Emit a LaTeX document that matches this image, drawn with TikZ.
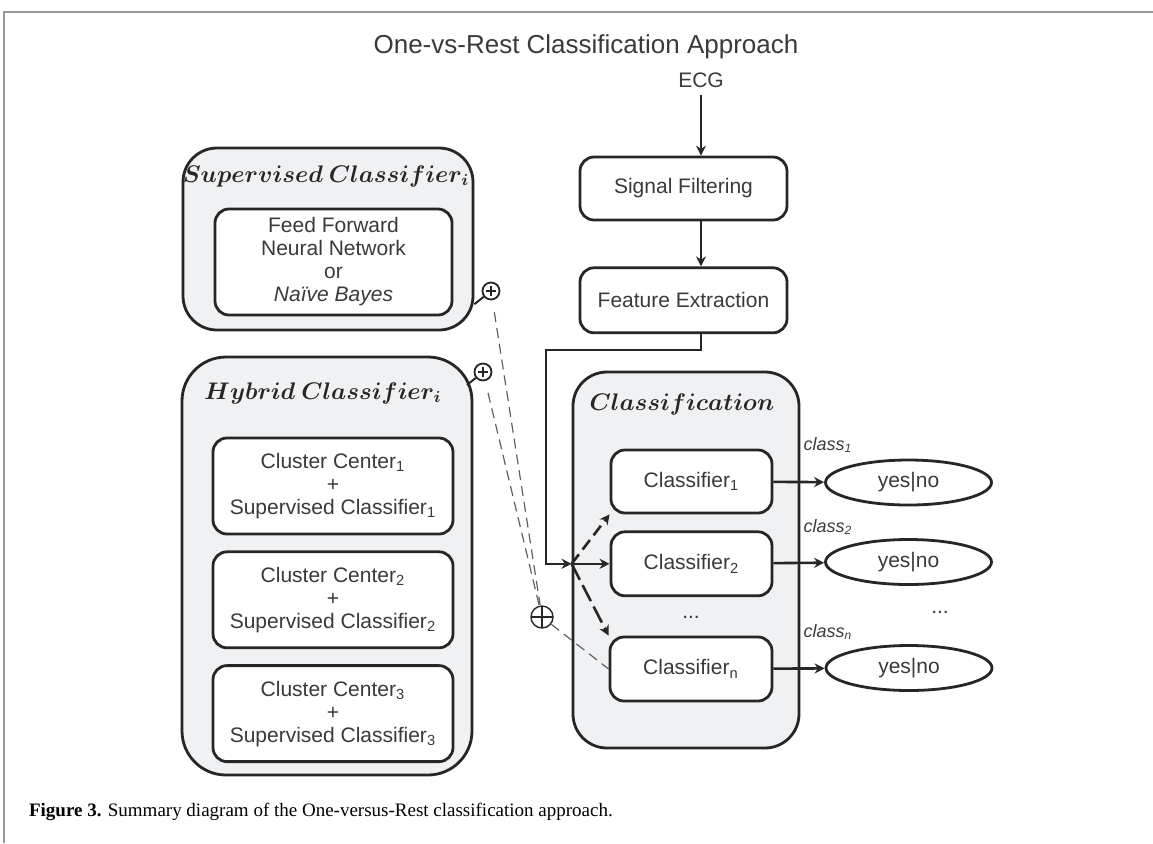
\documentclass[tikz,border=0pt]{standalone}
\usepackage{fontspec}
\setmainfont{Liberation Serif}
\setsansfont{Liberation Sans}
\usepackage{xcolor}
\usepackage{tikz}
\usetikzlibrary{arrows.meta,positioning,calc,shapes.geometric}

\definecolor{boxgray}{HTML}{F0F1F3}
\definecolor{ink}{HTML}{262626}
\definecolor{txt}{HTML}{3A3A3A}

\begin{document}
\begin{tikzpicture}[
      x=0.5pt, y=-0.5pt,
      font=\sffamily\fontsize{10.5}{11.5}\selectfont, text=txt,
      box/.style={draw=ink, line width=1.4pt, rounded corners=7pt, fill=white,
                  align=center, inner sep=0pt},
      group/.style={draw=ink, line width=1.4pt, fill=boxgray, inner sep=0pt},
      grouptitle/.style={font=\boldmath\fontsize{12}{14}\selectfont, text=ink},
      outcome/.style={draw=ink, line width=1.4pt, ellipse, fill=white,
                      minimum width=83pt, minimum height=22.5pt, inner sep=0pt},
      classlab/.style={font=\sffamily\itshape\fontsize{9}{10}\selectfont},
      arr/.style={-{Stealth[length=5pt,width=5pt]}, line width=1.3pt, draw=ink},
      joint/.style={circle, draw=ink, line width=0.9pt, fill=white, minimum size=8.5pt,
                    inner sep=0pt,
                    path picture={\draw[line width=1pt]
                      ($(path picture bounding box.center)+(-2.3pt,0)$) --
                      ($(path picture bounding box.center)+(2.3pt,0)$)
                      ($(path picture bounding box.center)+(0,-2.3pt)$) --
                      ($(path picture bounding box.center)+(0,2.3pt)$);}},
      merge/.style={circle, draw=ink, line width=0.7pt, minimum size=11pt, inner sep=0pt,
                    path picture={\draw[line width=0.7pt]
                      (path picture bounding box.north) -- (path picture bounding box.south)
                      (path picture bounding box.west) -- (path picture bounding box.east);}},
      link/.style={draw=gray!75!black, line width=0.6pt, dash pattern=on 5pt off 3pt}
    ]
    \useasboundingbox (0,0) rectangle (1153,843);
    % page frame
    \draw[gray!80, line width=0.8pt] (4,843) -- (4,12) -- (1153,12);

    \node[font=\sffamily\fontsize{13}{15}\selectfont] (title) at (586,47)
      {One-vs-Rest Classification Approach};

    % main pipeline
    \node (ecg) at (701,80) {ECG};
    \node[box, minimum width=103.5pt, minimum height=31.5pt] (filt) at (683.5,188.5) {Signal Filtering};
    \node[box, minimum width=103.5pt, minimum height=32.5pt, below=22.5pt of filt] (feat) {Feature Extraction};

    % classification block
    \node[group, rounded corners=17pt, minimum width=113pt, minimum height=188pt] (clsgrp) at (686,560) {};
    \node[grouptitle] (clstitle) at (682,404) {$Classification$};
    \node[box, minimum width=80.5pt, minimum height=31.5pt] (cl1) at (691.5,481.5) {Classifier\textsubscript{1}};
    \node[box, minimum width=80.5pt, minimum height=32pt, below=8pt of cl1] (cl2) {Classifier\textsubscript{2}};
    \node (cldots) at (691,617) {...};
    \node[box, minimum width=81pt, minimum height=32pt] (cln) at (691,669) {Classifier\textsubscript{n}};

    \node[outcome] (yn1) at (908.5,482.5) {yes|no};
    \node[outcome] (yn2) at (908.5,562) {yes|no};
    \node[outcome] (ynn) at (909,668) {yes|no};
    \node[classlab] (lab1) at (828,445) {class\textsubscript{1}};
    \node[classlab] (lab2) at (828,527) {class\textsubscript{2}};
    \node[classlab] (labn) at (828,632) {class\textsubscript{n}};
    \node (yndots) at (940,612) {...};

    % supervised classifier
    \node[group, rounded corners=17pt, minimum width=145pt, minimum height=91pt] (supgrp) at (328,239) {};
    \node[grouptitle] (suptitle) at (326,176) {$Supervised\ Classifier_i$};
    \node[box, minimum width=118.5pt, minimum height=53pt] (supnet) at (333.5,262)
      {Feed Forward\\Neural Network\\or\\\textit{Naïve Bayes}};

    % hybrid classifier
    \node[group, rounded corners=22pt, minimum width=145pt, minimum height=209pt] (hybgrp) at (327,566) {};
    \node[grouptitle] (hybtitle) at (323,393) {$Hybrid\ Classifier_i$};
    \node[box, minimum width=120pt, minimum height=48pt] (hyb1) at (333,486)
      {Cluster Center\textsubscript{1}\\+\\Supervised Classifier\textsubscript{1}};
    \node[box, minimum width=120pt, minimum height=48pt, below=7.5pt of hyb1] (hyb2)
      {Cluster Center\textsubscript{2}\\+\\Supervised Classifier\textsubscript{2}};
    \node[box, minimum width=120pt, minimum height=48pt, below=7.5pt of hyb2] (hyb3)
      {Cluster Center\textsubscript{3}\\+\\Supervised Classifier\textsubscript{3}};

    % plug-in points
    \node[joint] (psup) at (491,291) {};
    \node[joint] (phyb) at (483,372) {};
    \node[merge] (pmerge) at (542,617) {};
    \coordinate (hybtouch) at (467,385);
    \draw[ink, line width=1pt] (psup) -- (supgrp.-24);
    \draw[ink, line width=1pt] (phyb) -- (hybtouch);
    \draw[link, shorten <=6pt] (psup) -- (pmerge);
    \draw[link, shorten <=6pt] (phyb) -- (pmerge);
    \draw[link] (pmerge) -- (cln.west);

    % flow
    \coordinate (bend) at (546,350);
    \coordinate (split) at (clsgrp.west |- cl2.west);
    \draw[arr] (ecg) -- (ecg |- filt.north);
    \draw[arr] (ecg |- filt.south) -- (ecg |- feat.north);
    \draw[arr] (ecg |- feat.south) |- (bend) |- (split);
    \draw[arr] (split) -- (cl2.west);
    \draw[arr, dash pattern=on 6pt off 3pt] (split) -- (cl1.south west);
    \draw[arr, dash pattern=on 9pt off 3pt] (split) -- (cln.north west);
    \draw[arr] (cl1) -- (yn1);
    \draw[arr] (cl2) -- (yn2);
    \draw[arr] (cln) -- (ynn);

    \node[anchor=west, font=\rmfamily\fontsize{9.5}{11}\selectfont, text=black] (caption) at (22,812)
      {\textbf{Figure 3.} Summary diagram of the One-versus-Rest classification approach.};
  \end{tikzpicture}
\end{document}
